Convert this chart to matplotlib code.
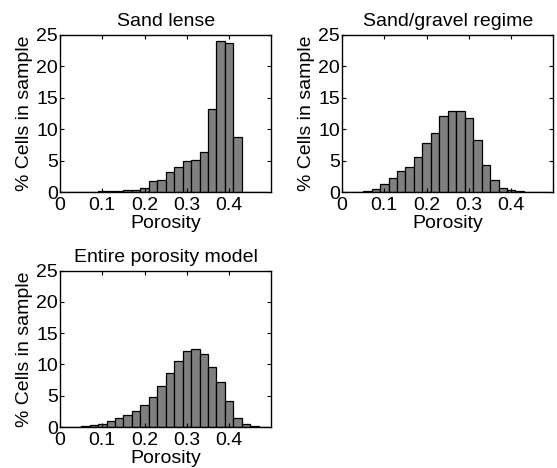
import numpy as np
import matplotlib
matplotlib.use("Agg")
import matplotlib.pyplot as plt

plt.rcParams['font.family'] = ['Liberation Sans', 'DejaVu Sans']

# bin centres (porosity), width 0.02
centers = np.round(np.arange(0, 0.50, 0.02), 2)

# % cells in sample
sand_lense = [0, 0, 0, 0, 0, 0.1, 0.1, 0.2, 0.3, 0.35, 0.6, 1.75, 1.9, 3.1,
              4.0, 4.9, 5.05, 6.4, 13.2, 24.0, 23.7, 8.8, 0.05, 0.05, 0.02]
sand_gravel = [0, 0, 0.05, 0.2, 0.45, 1.3, 2.3, 3.35, 4.0, 5.6, 7.8, 9.4,
               12.1, 12.8, 12.9, 11.8, 8.3, 4.35, 1.85, 0.7, 0.25, 0.1, 0.02, 0, 0]
entire = [0, 0, 0.03, 0.1, 0.25, 0.5, 0.9, 1.45, 1.9, 2.6, 3.45, 4.8, 6.55,
          8.6, 10.6, 12.1, 12.4, 11.6, 9.6, 7.15, 4.15, 1.45, 0.4, 0.1, 0.02]

titles = ['Sand lense', 'Sand/gravel regime', 'Entire porosity model']
xticks = [0, 0.1, 0.2, 0.3, 0.4]
xticklabels = ['0', '0.1', '0.2', '0.3', '0.4']
yticks = [0, 5, 10, 15, 20, 25]

fs = 14

fig = plt.figure(figsize=(5.57, 4.68), dpi=100)
positions = [
    [0.1077, 0.5897, 0.3797, 0.3365],
    [0.614, 0.5897, 0.3797, 0.3365],
    [0.1077, 0.0876, 0.3797, 0.3344],
]

for pos, title, vals in zip(positions, titles, [sand_lense, sand_gravel, entire]):
    ax = fig.add_axes(pos)
    ax.bar(centers, vals, width=0.02, color='#808080', edgecolor='black',
           linewidth=0.9, align='center')
    ax.set_xlim(0, 0.5)
    ax.set_ylim(0, 25)
    ax.set_xticks(xticks)
    ax.set_xticklabels(xticklabels)
    ax.set_yticks(yticks)
    ax.tick_params(direction='in', length=3, width=0.8, top=True, right=True,
                   labelsize=fs)
    ax.tick_params(axis='x', pad=3.5)
    ax.tick_params(axis='y', pad=1.5)
    for s in ax.spines.values():
        s.set_linewidth(1.0)
    ax.set_title(title, fontsize=fs, pad=6)
    ax.set_xlabel('Porosity', fontsize=fs, labelpad=0.5)
    ax.set_ylabel('% Cells in sample', fontsize=fs, labelpad=2)

fig.savefig('out.png', dpi=100)
